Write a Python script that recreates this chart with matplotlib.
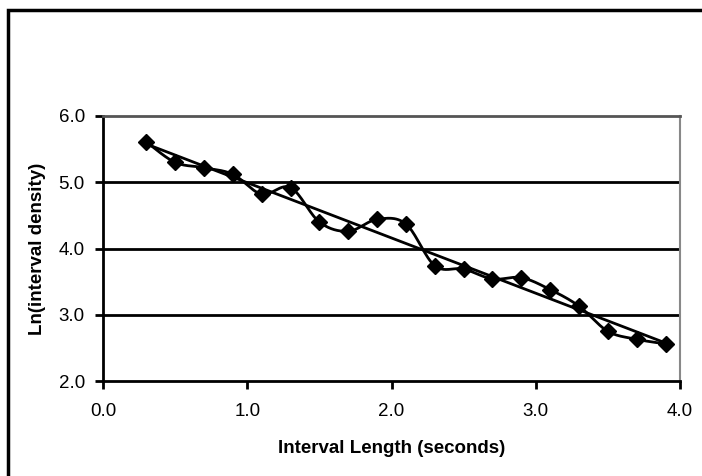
import numpy as np
import matplotlib
matplotlib.use("Agg")
import matplotlib.pyplot as plt
from matplotlib.patches import Rectangle

interval_length = [0.3, 0.5, 0.7, 0.9, 1.1, 1.3, 1.5, 1.7, 1.9, 2.1,
                   2.3, 2.5, 2.7, 2.9, 3.1, 3.3, 3.5, 3.7, 3.9]
ln_density = [5.61, 5.30, 5.22, 5.12, 4.82, 4.92, 4.40, 4.26, 4.44, 4.37,
              3.74, 3.69, 3.54, 3.56, 3.38, 3.13, 2.75, 2.63, 2.56]
x_ticks = [0.0, 1.0, 2.0, 3.0, 4.0]
y_ticks = [2.0, 3.0, 4.0, 5.0, 6.0]

plt.rcParams['font.family'] = ['Liberation Sans', 'DejaVu Sans']

fig = plt.figure(figsize=(7.02, 4.76), dpi=100)
ax = fig.add_axes([103/702, 1 - 381/476, (680 - 103)/702, (381 - 116)/476])

x = np.array(interval_length)
y = np.array(ln_density)

# Smoothed line (Catmull-Rom, like Excel's smoothed line)
xs, ys = [], []
n = len(x)
for i in range(n - 1):
    p0 = np.array([x[max(i - 1, 0)], y[max(i - 1, 0)]])
    p1 = np.array([x[i], y[i]])
    p2 = np.array([x[i + 1], y[i + 1]])
    p3 = np.array([x[min(i + 2, n - 1)], y[min(i + 2, n - 1)]])
    c1 = p1 + (p2 - p0) / 6
    c2 = p2 - (p3 - p1) / 6
    t = np.linspace(0, 1, 30)[:, None]
    pts = (1 - t) ** 3 * p1 + 3 * (1 - t) ** 2 * t * c1 + 3 * (1 - t) * t ** 2 * c2 + t ** 3 * p2
    xs.extend(pts[:, 0]); ys.extend(pts[:, 1])
ax.plot(xs, ys, color='black', lw=2, zorder=3)
ax.plot(x, y, linestyle='none', marker='D', markersize=8.5, color='black', zorder=4)

# Linear trendline
slope, intercept = np.polyfit(x, y, 1)
ax.plot([x[0], x[-1]], [slope * x[0] + intercept, slope * x[-1] + intercept],
        color='black', lw=2, zorder=3)

ax.set_xlim(0, 4)
ax.set_ylim(2, 6)
ax.set_xticks(x_ticks)
ax.set_yticks(y_ticks)
ax.set_xticklabels([f"{v:.1f}" for v in x_ticks], fontsize=13.5)
ax.set_yticklabels([f"{v:.1f}" for v in y_ticks], fontsize=13.5)
ax.tick_params(direction='out', length=6, width=2, color='black', pad=7)
ax.tick_params(axis='x', pad=10)
for v in y_ticks[1:-1]:
    ax.axhline(v, color='black', lw=2, zorder=1)
ax.spines['left'].set_linewidth(2)
ax.spines['bottom'].set_linewidth(2)
ax.spines['top'].set_color('#555555')
ax.spines['top'].set_linewidth(2)
ax.spines['right'].set_color('#888888')
ax.spines['right'].set_linewidth(1.5)

ax.set_xlabel('Interval Length (seconds)', fontsize=13.5, fontweight='bold', labelpad=14)
ax.set_ylabel('Ln(interval density)', fontsize=13.5, fontweight='bold', labelpad=9)

# Outer chart border
fig.patches.append(Rectangle((8/702, -0.1), 1.1, 1 - 10/476 + 0.1,
                             transform=fig.transFigure, fill=False,
                             edgecolor='black', lw=2.5))

fig.savefig('out.png', dpi=100)
